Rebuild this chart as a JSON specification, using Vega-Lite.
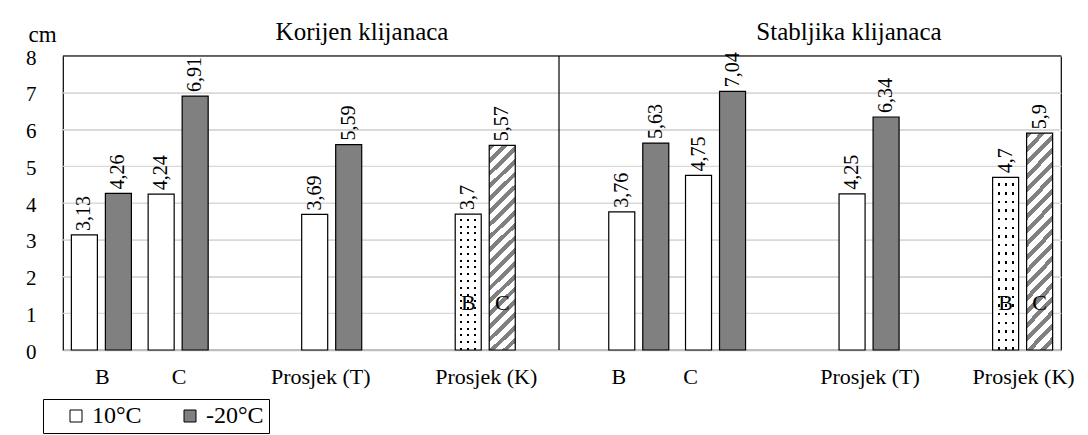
{
  "$schema": "https://vega.github.io/schema/vega-lite/v6.json",
  "autosize": {"type": "none"},
  "padding": {"left": 63, "top": 56, "right": 27, "bottom": 85},
  "width": 998,
  "height": 294,
  "background": "white",
  "config": {
    "view": {"stroke": "black", "strokeWidth": 1.2},
    "locale": {"number": {"decimal": ",", "thousands": ".", "grouping": [3], "currency": ["", " €"]}},
    "text": {"font": "Liberation Serif", "color": "black"},
    "axisX": {"labelAngle": 0, "labelFont": "Liberation Serif", "labelFontSize": 22, "labelColor": "black", "labelPadding": 16, "ticks": false, "domainColor": "#bfbfbf", "domainWidth": 1.5, "grid": false, "labelOverlap": false, "labelLimit": 300},
    "axisY": {"labelFont": "Liberation Serif", "labelFontSize": 21, "labelColor": "black", "labelPadding": 27, "labelOffset": 2, "labelOverlap": false, "ticks": false, "domain": false, "grid": true, "gridColor": "#d9d9d9", "gridWidth": 1,
      "titleAngle": 0, "titleAlign": "left", "titleBaseline": "alphabetic", "titleX": -35, "titleY": -15, "titleFont": "Liberation Serif", "titleFontSize": 23, "titleFontWeight": "normal", "titleColor": "black"}
  },
  "data": {"values": [
    {"panel": "K", "cat": "B", "series": "10°C", "value": 3.13},
    {"panel": "K", "cat": "B", "series": "-20°C", "value": 4.26},
    {"panel": "K", "cat": "C", "series": "10°C", "value": 4.24},
    {"panel": "K", "cat": "C", "series": "-20°C", "value": 6.91},
    {"panel": "K", "cat": "Prosjek (T)", "series": "10°C", "value": 3.69},
    {"panel": "K", "cat": "Prosjek (T)", "series": "-20°C", "value": 5.59},
    {"panel": "K", "cat": "Prosjek (K)", "series": "10°C", "value": 3.7, "kind": "B"},
    {"panel": "K", "cat": "Prosjek (K)", "series": "-20°C", "value": 5.57, "kind": "C"},
    {"panel": "S", "cat": "B", "series": "10°C", "value": 3.76},
    {"panel": "S", "cat": "B", "series": "-20°C", "value": 5.63},
    {"panel": "S", "cat": "C", "series": "10°C", "value": 4.75},
    {"panel": "S", "cat": "C", "series": "-20°C", "value": 7.04},
    {"panel": "S", "cat": "Prosjek (T)", "series": "10°C", "value": 4.25},
    {"panel": "S", "cat": "Prosjek (T)", "series": "-20°C", "value": 6.34},
    {"panel": "S", "cat": "Prosjek (K)", "series": "10°C", "value": 4.7, "kind": "B"},
    {"panel": "S", "cat": "Prosjek (K)", "series": "-20°C", "value": 5.9, "kind": "C"}
  ]},
  "transform": [{"calculate": "datum.panel + '|' + datum.cat", "as": "key"}],
  "layer": [
    {
      "data": {"values": [{"grid": 1}, {"grid": 2}, {"grid": 3}, {"grid": 4}, {"grid": 5}, {"grid": 6}, {"grid": 7}]},
      "mark": {"type": "rule", "color": "#d9d9d9", "strokeWidth": 1},
      "encoding": {
        "y": {"field": "grid", "type": "quantitative",
          "scale": {"domain": [0, 8], "nice": false},
          "axis": {"title": "cm", "values": [0, 1, 2, 3, 4, 5, 6, 7, 8], "grid": true, "gridColor": "#d9d9d9", "labelOverlap": false}}
      }
    },
    {
      "transform": [{"filter": "!datum.kind"}],
      "mark": {"type": "bar", "stroke": "black", "strokeWidth": 1.2},
      "encoding": {
        "x": {"field": "key", "type": "nominal",
          "scale": {"domain": ["K|B", "K|C", "g1", "K|Prosjek (T)", "g2", "K|Prosjek (K)", "g3", "S|B", "S|C", "g4", "S|Prosjek (T)", "g5", "S|Prosjek (K)"], "paddingInner": 0, "paddingOuter": 0},
          "axis": {"title": null, "values": ["K|B", "K|C", "K|Prosjek (T)", "K|Prosjek (K)", "S|B", "S|C", "S|Prosjek (T)", "S|Prosjek (K)"], "labelExpr": "split(datum.value, '|')[1]",
            "labelOffset": {"condition": [{"test": "datum.value === 'K|Prosjek (T)'", "value": -11}, {"test": "datum.value === 'S|B'", "value": -20}, {"test": "datum.value === 'S|C'", "value": -25}], "value": 1}}},
        "xOffset": {"field": "series", "type": "nominal", "scale": {"domain": ["10°C", "-20°C"], "paddingInner": 0.235, "paddingOuter": 0.246}},
        "y": {"field": "value", "type": "quantitative",
          "axis": {"title": "cm", "values": [0, 1, 2, 3, 4, 5, 6, 7, 8], "grid": true, "gridColor": "#d9d9d9", "labelOverlap": false}},
        "fill": {"field": "series", "type": "nominal",
          "scale": {"domain": ["10°C", "-20°C"], "range": ["#ffffff", "#808080"]},
          "legend": {"orient": "none", "legendX": -20, "legendY": 343, "direction": "horizontal", "title": null, "strokeColor": "black", "padding": 5, "fillColor": "white", "symbolType": "square", "symbolSize": 144, "symbolStrokeColor": "black", "symbolStrokeWidth": 1, "symbolOffset": 16, "labelFont": "Liberation Serif", "labelFontSize": 24, "labelColor": "black", "labelOffset": 4, "columnPadding": 20}}
      }
    },
    {
      "transform": [{"filter": "datum.kind === 'B'"}],
      "mark": {"type": "bar", "strokeWidth": 0, "fill": {"gradient": "linear", "x1": 0, "y1": 0, "x2": 0, "y2": 1, "stops": [
        {"offset": 0, "color": "#ffffff"}, {"offset": 0.035, "color": "#ffffff"}, {"offset": 0.035, "color": "#000000"}, {"offset": 0.05, "color": "#000000"},
        {"offset": 0.05, "color": "#ffffff"}, {"offset": 0.085, "color": "#ffffff"}, {"offset": 0.085, "color": "#000000"}, {"offset": 0.1, "color": "#000000"},
        {"offset": 0.1, "color": "#ffffff"}, {"offset": 0.135, "color": "#ffffff"}, {"offset": 0.135, "color": "#000000"}, {"offset": 0.15, "color": "#000000"},
        {"offset": 0.15, "color": "#ffffff"}, {"offset": 0.185, "color": "#ffffff"}, {"offset": 0.185, "color": "#000000"}, {"offset": 0.2, "color": "#000000"},
        {"offset": 0.2, "color": "#ffffff"}, {"offset": 0.235, "color": "#ffffff"}, {"offset": 0.235, "color": "#000000"}, {"offset": 0.25, "color": "#000000"},
        {"offset": 0.25, "color": "#ffffff"}, {"offset": 0.285, "color": "#ffffff"}, {"offset": 0.285, "color": "#000000"}, {"offset": 0.3, "color": "#000000"},
        {"offset": 0.3, "color": "#ffffff"}, {"offset": 0.335, "color": "#ffffff"}, {"offset": 0.335, "color": "#000000"}, {"offset": 0.35, "color": "#000000"},
        {"offset": 0.35, "color": "#ffffff"}, {"offset": 0.385, "color": "#ffffff"}, {"offset": 0.385, "color": "#000000"}, {"offset": 0.4, "color": "#000000"},
        {"offset": 0.4, "color": "#ffffff"}, {"offset": 0.435, "color": "#ffffff"}, {"offset": 0.435, "color": "#000000"}, {"offset": 0.45, "color": "#000000"},
        {"offset": 0.45, "color": "#ffffff"}, {"offset": 0.485, "color": "#ffffff"}, {"offset": 0.485, "color": "#000000"}, {"offset": 0.5, "color": "#000000"},
        {"offset": 0.5, "color": "#ffffff"}, {"offset": 0.535, "color": "#ffffff"}, {"offset": 0.535, "color": "#000000"}, {"offset": 0.55, "color": "#000000"},
        {"offset": 0.55, "color": "#ffffff"}, {"offset": 0.585, "color": "#ffffff"}, {"offset": 0.585, "color": "#000000"}, {"offset": 0.6, "color": "#000000"},
        {"offset": 0.6, "color": "#ffffff"}, {"offset": 0.635, "color": "#ffffff"}, {"offset": 0.635, "color": "#000000"}, {"offset": 0.65, "color": "#000000"},
        {"offset": 0.65, "color": "#ffffff"}, {"offset": 0.685, "color": "#ffffff"}, {"offset": 0.685, "color": "#000000"}, {"offset": 0.7, "color": "#000000"},
        {"offset": 0.7, "color": "#ffffff"}, {"offset": 0.735, "color": "#ffffff"}, {"offset": 0.735, "color": "#000000"}, {"offset": 0.75, "color": "#000000"},
        {"offset": 0.75, "color": "#ffffff"}, {"offset": 0.785, "color": "#ffffff"}, {"offset": 0.785, "color": "#000000"}, {"offset": 0.8, "color": "#000000"},
        {"offset": 0.8, "color": "#ffffff"}, {"offset": 0.835, "color": "#ffffff"}, {"offset": 0.835, "color": "#000000"}, {"offset": 0.85, "color": "#000000"},
        {"offset": 0.85, "color": "#ffffff"}, {"offset": 0.885, "color": "#ffffff"}, {"offset": 0.885, "color": "#000000"}, {"offset": 0.9, "color": "#000000"},
        {"offset": 0.9, "color": "#ffffff"}, {"offset": 0.935, "color": "#ffffff"}, {"offset": 0.935, "color": "#000000"}, {"offset": 0.95, "color": "#000000"},
        {"offset": 0.95, "color": "#ffffff"}, {"offset": 0.985, "color": "#ffffff"}, {"offset": 0.985, "color": "#000000"}, {"offset": 1, "color": "#000000"}]}},
      "encoding": {
        "x": {"field": "key", "type": "nominal",
          "axis": {"title": null, "values": ["K|B", "K|C", "K|Prosjek (T)", "K|Prosjek (K)", "S|B", "S|C", "S|Prosjek (T)", "S|Prosjek (K)"], "labelExpr": "split(datum.value, '|')[1]",
            "labelOffset": {"condition": [{"test": "datum.value === 'K|Prosjek (T)'", "value": -11}, {"test": "datum.value === 'S|B'", "value": -20}, {"test": "datum.value === 'S|C'", "value": -25}], "value": 1}}},
        "xOffset": {"field": "series", "type": "nominal"},
        "y": {"field": "value", "type": "quantitative",
          "axis": {"title": "cm", "values": [0, 1, 2, 3, 4, 5, 6, 7, 8], "grid": true, "gridColor": "#d9d9d9", "labelOverlap": false}}
      }
    },
    {
      "transform": [{"filter": "datum.kind === 'B'"}],
      "mark": {"type": "bar", "stroke": "black", "strokeWidth": 1.2, "fill": {"gradient": "linear", "x1": 0, "y1": 0, "x2": 1, "y2": 0, "stops": [
        {"offset": 0, "color": "#ffffff"}, {"offset": 0.19, "color": "#ffffff"}, {"offset": 0.19, "color": "rgba(255,255,255,0)"}, {"offset": 0.27, "color": "rgba(255,255,255,0)"},
        {"offset": 0.27, "color": "#ffffff"}, {"offset": 0.46, "color": "#ffffff"}, {"offset": 0.46, "color": "rgba(255,255,255,0)"}, {"offset": 0.54, "color": "rgba(255,255,255,0)"},
        {"offset": 0.54, "color": "#ffffff"}, {"offset": 0.73, "color": "#ffffff"}, {"offset": 0.73, "color": "rgba(255,255,255,0)"}, {"offset": 0.81, "color": "rgba(255,255,255,0)"},
        {"offset": 0.81, "color": "#ffffff"}, {"offset": 1, "color": "#ffffff"}]}},
      "encoding": {
        "x": {"field": "key", "type": "nominal",
          "axis": {"title": null, "values": ["K|B", "K|C", "K|Prosjek (T)", "K|Prosjek (K)", "S|B", "S|C", "S|Prosjek (T)", "S|Prosjek (K)"], "labelExpr": "split(datum.value, '|')[1]",
            "labelOffset": {"condition": [{"test": "datum.value === 'K|Prosjek (T)'", "value": -11}, {"test": "datum.value === 'S|B'", "value": -20}, {"test": "datum.value === 'S|C'", "value": -25}], "value": 1}}},
        "xOffset": {"field": "series", "type": "nominal"},
        "y": {"field": "value", "type": "quantitative",
          "axis": {"title": "cm", "values": [0, 1, 2, 3, 4, 5, 6, 7, 8], "grid": true, "gridColor": "#d9d9d9", "labelOverlap": false}}
      }
    },
    {
      "transform": [{"filter": "datum.kind === 'C'"}],
      "mark": {"type": "bar", "stroke": "black", "strokeWidth": 1.2, "fill": {"gradient": "linear", "x1": 0, "y1": 0, "x2": 0.137, "y2": 1.106, "stops": [
        {"offset": 0, "color": "#808080"}, {"offset": 0.025, "color": "#808080"}, {"offset": 0.025, "color": "#ffffff"}, {"offset": 0.0556, "color": "#ffffff"},
        {"offset": 0.0556, "color": "#808080"}, {"offset": 0.0806, "color": "#808080"}, {"offset": 0.0806, "color": "#ffffff"}, {"offset": 0.1111, "color": "#ffffff"},
        {"offset": 0.1111, "color": "#808080"}, {"offset": 0.1361, "color": "#808080"}, {"offset": 0.1361, "color": "#ffffff"}, {"offset": 0.1667, "color": "#ffffff"},
        {"offset": 0.1667, "color": "#808080"}, {"offset": 0.1917, "color": "#808080"}, {"offset": 0.1917, "color": "#ffffff"}, {"offset": 0.2222, "color": "#ffffff"},
        {"offset": 0.2222, "color": "#808080"}, {"offset": 0.2472, "color": "#808080"}, {"offset": 0.2472, "color": "#ffffff"}, {"offset": 0.2778, "color": "#ffffff"},
        {"offset": 0.2778, "color": "#808080"}, {"offset": 0.3028, "color": "#808080"}, {"offset": 0.3028, "color": "#ffffff"}, {"offset": 0.3333, "color": "#ffffff"},
        {"offset": 0.3333, "color": "#808080"}, {"offset": 0.3583, "color": "#808080"}, {"offset": 0.3583, "color": "#ffffff"}, {"offset": 0.3889, "color": "#ffffff"},
        {"offset": 0.3889, "color": "#808080"}, {"offset": 0.4139, "color": "#808080"}, {"offset": 0.4139, "color": "#ffffff"}, {"offset": 0.4444, "color": "#ffffff"},
        {"offset": 0.4444, "color": "#808080"}, {"offset": 0.4694, "color": "#808080"}, {"offset": 0.4694, "color": "#ffffff"}, {"offset": 0.5, "color": "#ffffff"},
        {"offset": 0.5, "color": "#808080"}, {"offset": 0.525, "color": "#808080"}, {"offset": 0.525, "color": "#ffffff"}, {"offset": 0.5556, "color": "#ffffff"},
        {"offset": 0.5556, "color": "#808080"}, {"offset": 0.5806, "color": "#808080"}, {"offset": 0.5806, "color": "#ffffff"}, {"offset": 0.6111, "color": "#ffffff"},
        {"offset": 0.6111, "color": "#808080"}, {"offset": 0.6361, "color": "#808080"}, {"offset": 0.6361, "color": "#ffffff"}, {"offset": 0.6667, "color": "#ffffff"},
        {"offset": 0.6667, "color": "#808080"}, {"offset": 0.6917, "color": "#808080"}, {"offset": 0.6917, "color": "#ffffff"}, {"offset": 0.7222, "color": "#ffffff"},
        {"offset": 0.7222, "color": "#808080"}, {"offset": 0.7472, "color": "#808080"}, {"offset": 0.7472, "color": "#ffffff"}, {"offset": 0.7778, "color": "#ffffff"},
        {"offset": 0.7778, "color": "#808080"}, {"offset": 0.8028, "color": "#808080"}, {"offset": 0.8028, "color": "#ffffff"}, {"offset": 0.8333, "color": "#ffffff"},
        {"offset": 0.8333, "color": "#808080"}, {"offset": 0.8583, "color": "#808080"}, {"offset": 0.8583, "color": "#ffffff"}, {"offset": 0.8889, "color": "#ffffff"},
        {"offset": 0.8889, "color": "#808080"}, {"offset": 0.9139, "color": "#808080"}, {"offset": 0.9139, "color": "#ffffff"}, {"offset": 0.9444, "color": "#ffffff"},
        {"offset": 0.9444, "color": "#808080"}, {"offset": 0.9694, "color": "#808080"}, {"offset": 0.9694, "color": "#ffffff"}, {"offset": 1, "color": "#ffffff"}]}},
      "encoding": {
        "x": {"field": "key", "type": "nominal",
          "axis": {"title": null, "values": ["K|B", "K|C", "K|Prosjek (T)", "K|Prosjek (K)", "S|B", "S|C", "S|Prosjek (T)", "S|Prosjek (K)"], "labelExpr": "split(datum.value, '|')[1]",
            "labelOffset": {"condition": [{"test": "datum.value === 'K|Prosjek (T)'", "value": -11}, {"test": "datum.value === 'S|B'", "value": -20}, {"test": "datum.value === 'S|C'", "value": -25}], "value": 1}}},
        "xOffset": {"field": "series", "type": "nominal"},
        "y": {"field": "value", "type": "quantitative",
          "axis": {"title": "cm", "values": [0, 1, 2, 3, 4, 5, 6, 7, 8], "grid": true, "gridColor": "#d9d9d9", "labelOverlap": false}}
      }
    },
    {
      "mark": {"type": "text", "angle": 270, "align": "left", "baseline": "middle", "dx": 4, "font": "Liberation Serif", "fontSize": 20, "color": "black"},
      "encoding": {
        "x": {"field": "key", "type": "nominal",
          "axis": {"title": null, "values": ["K|B", "K|C", "K|Prosjek (T)", "K|Prosjek (K)", "S|B", "S|C", "S|Prosjek (T)", "S|Prosjek (K)"], "labelExpr": "split(datum.value, '|')[1]",
            "labelOffset": {"condition": [{"test": "datum.value === 'K|Prosjek (T)'", "value": -11}, {"test": "datum.value === 'S|B'", "value": -20}, {"test": "datum.value === 'S|C'", "value": -25}], "value": 1}}},
        "xOffset": {"field": "series", "type": "nominal"},
        "y": {"field": "value", "type": "quantitative",
          "axis": {"title": "cm", "values": [0, 1, 2, 3, 4, 5, 6, 7, 8], "grid": true, "gridColor": "#d9d9d9", "labelOverlap": false}},
        "text": {"field": "value", "type": "quantitative", "format": "~r"}
      }
    },
    {
      "transform": [{"filter": "datum.kind"}],
      "mark": {"type": "text", "align": "center", "baseline": "alphabetic", "dy": -3, "font": "Liberation Serif", "fontSize": 22, "color": "black"},
      "encoding": {
        "x": {"field": "key", "type": "nominal",
          "axis": {"title": null, "values": ["K|B", "K|C", "K|Prosjek (T)", "K|Prosjek (K)", "S|B", "S|C", "S|Prosjek (T)", "S|Prosjek (K)"], "labelExpr": "split(datum.value, '|')[1]",
            "labelOffset": {"condition": [{"test": "datum.value === 'K|Prosjek (T)'", "value": -11}, {"test": "datum.value === 'S|B'", "value": -20}, {"test": "datum.value === 'S|C'", "value": -25}], "value": 1}}},
        "xOffset": {"field": "series", "type": "nominal"},
        "y": {"datum": 1,
          "axis": {"title": "cm", "values": [0, 1, 2, 3, 4, 5, 6, 7, 8], "grid": true, "gridColor": "#d9d9d9", "labelOverlap": false}},
        "text": {"field": "kind", "type": "nominal"}
      }
    },
    {
      "data": {"values": [{"divider": "panels"}]},
      "mark": {"type": "rule", "color": "black", "strokeWidth": 1.2},
      "encoding": {
        "x": {"datum": "g3", "bandPosition": 0.461,
          "axis": {"title": null, "values": ["K|B", "K|C", "K|Prosjek (T)", "K|Prosjek (K)", "S|B", "S|C", "S|Prosjek (T)", "S|Prosjek (K)"], "labelExpr": "split(datum.value, '|')[1]",
            "labelOffset": {"condition": [{"test": "datum.value === 'K|Prosjek (T)'", "value": -11}, {"test": "datum.value === 'S|B'", "value": -20}, {"test": "datum.value === 'S|C'", "value": -25}], "value": 1}}}
      }
    },
    {
      "data": {"values": [{"border": "top"}]},
      "mark": {"type": "rule", "color": "black", "strokeWidth": 1.2},
      "encoding": {
        "y": {"datum": 8,
          "axis": {"title": "cm", "values": [0, 1, 2, 3, 4, 5, 6, 7, 8], "grid": true, "gridColor": "#d9d9d9", "labelOverlap": false}}
      }
    },
    {
      "data": {"values": [{"t": "Korijen klijanaca"}]},
      "mark": {"type": "text", "align": "center", "baseline": "alphabetic", "dy": -16, "font": "Liberation Serif", "fontSize": 25, "color": "black"},
      "encoding": {
        "x": {"datum": "K|Prosjek (T)", "bandPosition": 0.895,
          "axis": {"title": null, "values": ["K|B", "K|C", "K|Prosjek (T)", "K|Prosjek (K)", "S|B", "S|C", "S|Prosjek (T)", "S|Prosjek (K)"], "labelExpr": "split(datum.value, '|')[1]",
            "labelOffset": {"condition": [{"test": "datum.value === 'K|Prosjek (T)'", "value": -11}, {"test": "datum.value === 'S|B'", "value": -20}, {"test": "datum.value === 'S|C'", "value": -25}], "value": 1}}},
        "y": {"datum": 8,
          "axis": {"title": "cm", "values": [0, 1, 2, 3, 4, 5, 6, 7, 8], "grid": true, "gridColor": "#d9d9d9", "labelOverlap": false}},
        "text": {"field": "t", "type": "nominal"}
      }
    },
    {
      "data": {"values": [{"t": "Stabljika klijanaca"}]},
      "mark": {"type": "text", "align": "center", "baseline": "alphabetic", "dy": -16, "font": "Liberation Serif", "fontSize": 25, "color": "black"},
      "encoding": {
        "x": {"datum": "S|Prosjek (T)", "bandPosition": 0.238,
          "axis": {"title": null, "values": ["K|B", "K|C", "K|Prosjek (T)", "K|Prosjek (K)", "S|B", "S|C", "S|Prosjek (T)", "S|Prosjek (K)"], "labelExpr": "split(datum.value, '|')[1]",
            "labelOffset": {"condition": [{"test": "datum.value === 'K|Prosjek (T)'", "value": -11}, {"test": "datum.value === 'S|B'", "value": -20}, {"test": "datum.value === 'S|C'", "value": -25}], "value": 1}}},
        "y": {"datum": 8,
          "axis": {"title": "cm", "values": [0, 1, 2, 3, 4, 5, 6, 7, 8], "grid": true, "gridColor": "#d9d9d9", "labelOverlap": false}},
        "text": {"field": "t", "type": "nominal"}
      }
    }
  ]
}
